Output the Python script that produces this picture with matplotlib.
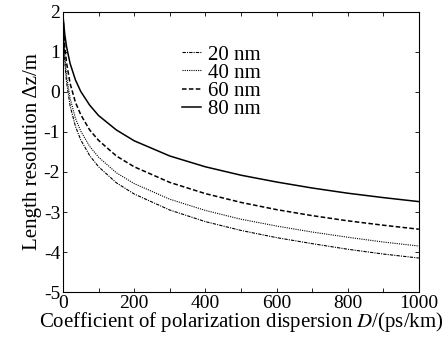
import numpy as np
import matplotlib
matplotlib.use('Agg')
import matplotlib.pyplot as plt
from matplotlib.ticker import MultipleLocator

plt.rcParams['font.family'] = ['Liberation Serif', 'DejaVu Serif']
plt.rcParams['mathtext.fontset'] = 'stix'
plt.rcParams['axes.unicode_minus'] = False

#%% data
D = [0, 5, 10, 20, 35, 50, 75, 100, 150, 200, 300, 400, 500, 600, 700, 800, 900, 1000]
dz_20 = [1.88, 0.76, 0.24, -0.35, -0.86, -1.20, -1.59, -1.87, -2.27, -2.55,
         -2.95, -3.24, -3.46, -3.64, -3.79, -3.93, -4.05, -4.15]
dz_40 = [1.91, 0.89, 0.40, -0.16, -0.66, -0.98, -1.36, -1.63, -2.02, -2.29,
         -2.68, -2.96, -3.18, -3.35, -3.50, -3.63, -3.75, -3.85]
dz_60 = [1.91, 1.15, 0.73, 0.21, -0.26, -0.57, -0.95, -1.21, -1.60, -1.87,
         -2.26, -2.54, -2.76, -2.94, -3.09, -3.22, -3.33, -3.43]
dz_80 = [1.90, 1.44, 1.13, 0.71, 0.30, 0.01, -0.33, -0.59, -0.95, -1.22,
         -1.60, -1.87, -2.08, -2.25, -2.40, -2.53, -2.64, -2.74]
labels = ['20 nm', '40 nm', '60 nm', '80 nm']

#%% plot
fig = plt.figure(figsize=(4.48, 3.4), dpi=100)
ax = fig.add_axes([0.1406, 0.141, 0.7944, 0.824])

ax.plot(D, dz_20, color='k', lw=0.8, dashes=(3, 1, 1, 1), label=labels[0])
ax.plot(D, dz_40, color='k', lw=0.8, dashes=(1, 1), label=labels[1])
ax.plot(D, dz_60, color='k', lw=1.1, dashes=(3, 1.5), label=labels[2])
ax.plot(D, dz_80, color='k', lw=1.1, label=labels[3])

ax.set_xlim(0, 1000)
ax.set_ylim(-5, 2)
ax.xaxis.set_major_locator(MultipleLocator(200))
ax.xaxis.set_minor_locator(MultipleLocator(100))
ax.yaxis.set_major_locator(MultipleLocator(1))
ax.tick_params(which='both', direction='in', top=True, right=True,
               length=3, width=0.6, labelsize=14, pad=2)
for sp in ax.spines.values():
    sp.set_linewidth(0.8)

ax.set_xlabel('Coefficient of polarization dispersion $D$/(ps/km)', fontsize=15, labelpad=-1)
ax.set_ylabel('Length resolution \u0394z/m', fontsize=15, labelpad=1)

ax.legend(loc='upper left', bbox_to_anchor=(0.334, 0.882), frameon=False,
          fontsize=15, handlelength=0.9, handletextpad=0.35, borderpad=0,
          borderaxespad=0, labelspacing=-0.07)

fig.savefig('out.png', dpi=100)
